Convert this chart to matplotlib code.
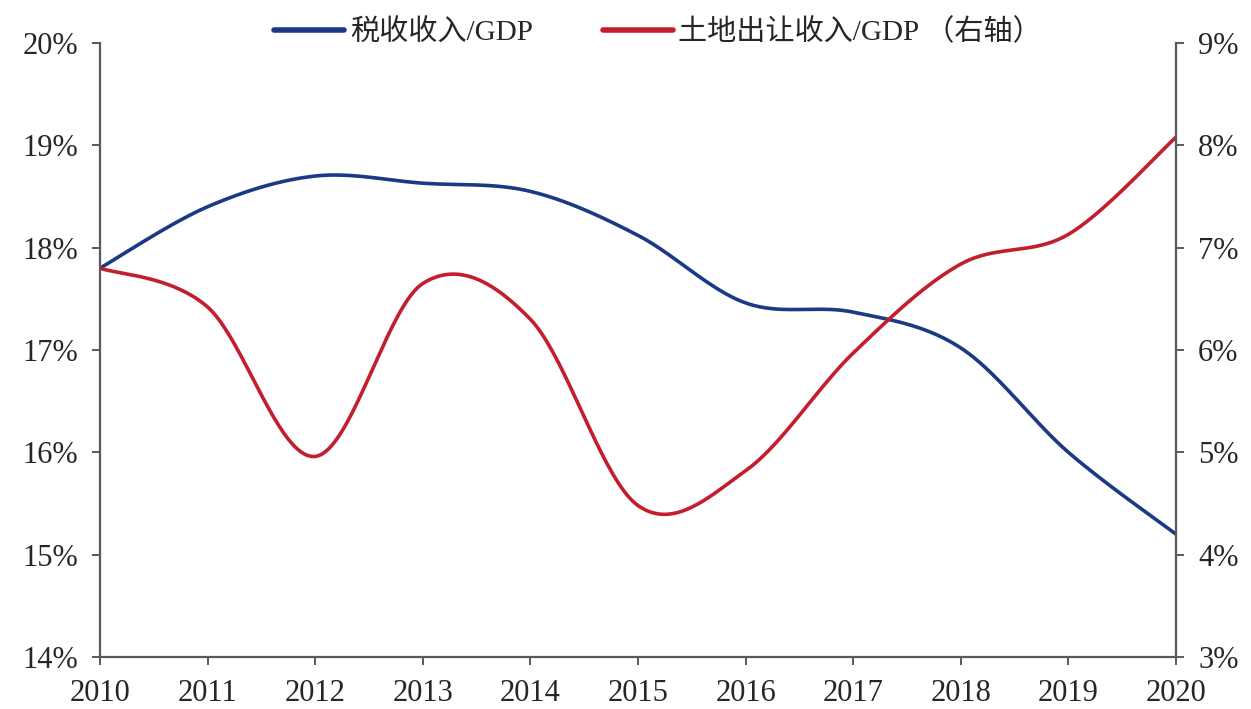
import numpy as np
import matplotlib
matplotlib.use('Agg')
import matplotlib.pyplot as plt
from matplotlib.ticker import FuncFormatter

# 数据（%）
years = [2010, 2011, 2012, 2013, 2014, 2015, 2016, 2017, 2018, 2019, 2020]
tax_gdp = [17.8, 18.4, 18.7, 18.63, 18.55, 18.12, 17.46, 17.37, 17.02, 16.0, 15.2]
land_gdp = [6.8, 6.42, 4.96, 6.65, 6.3, 4.48, 4.82, 5.97, 6.84, 7.13, 8.08]

label_tax = '税收收入/GDP'
label_land = '土地出让收入/GDP （右轴）'

blue = '#1B3A86'
red = '#C41E2E'
axis_col = '#5a5a5a'
text_col = '#262626'

plt.rcParams['font.family'] = ['Liberation Serif', 'Noto Sans CJK SC']


# Excel 风格平滑线：相邻点之间的三次贝塞尔段
def smooth(xs, ys, n=40):
    x = np.asarray(xs, float)
    y = np.asarray(ys, float)
    xp = np.concatenate([[x[0]], x, [x[-1]]])
    yp = np.concatenate([[y[0]], y, [y[-1]]])
    t = np.linspace(0, 1, n)[:, None]
    out_x, out_y = [], []
    for i in range(len(x) - 1):
        p0 = np.array([xp[i + 1], yp[i + 1]])
        p3 = np.array([xp[i + 2], yp[i + 2]])
        c1 = p0 + (p3 - np.array([xp[i], yp[i]])) / 6
        c2 = p3 - (np.array([xp[i + 3], yp[i + 3]]) - p0) / 6
        pts = ((1 - t) ** 3) * p0 + 3 * ((1 - t) ** 2) * t * c1 + 3 * (1 - t) * t ** 2 * c2 + t ** 3 * p3
        out_x.extend(pts[:, 0])
        out_y.extend(pts[:, 1])
    return out_x, out_y


fig = plt.figure(figsize=(12.51, 7.09), dpi=100)
ax = fig.add_axes([100 / 1251, 52 / 709, 1076 / 1251, 614 / 709])
ax2 = ax.twinx()

bx, by = smooth(years, tax_gdp)
rx, ry = smooth(years, land_gdp)
l1, = ax.plot(bx, by, color=blue, lw=2.6, label=label_tax, solid_capstyle='round')
l2, = ax2.plot(rx, ry, color=red, lw=2.6, label=label_land, solid_capstyle='round')

ax.set_xlim(2010, 2020)
ax.set_ylim(14, 20)
ax2.set_ylim(3, 9)
ax.set_xticks(years)
ax.set_yticks(range(14, 21))
ax2.set_yticks(range(3, 10))
pct = FuncFormatter(lambda v, p: f'{v:.0f}%')
ax.yaxis.set_major_formatter(pct)
ax2.yaxis.set_major_formatter(pct)

for a in (ax, ax2):
    a.spines['top'].set_visible(False)
    for s in a.spines.values():
        s.set_color(axis_col)
        s.set_linewidth(1.6)
ax.spines['right'].set_visible(False)
ax2.spines['left'].set_visible(False)
ax2.spines['bottom'].set_visible(False)

ax.tick_params(axis='x', direction='out', length=6, width=1.4, color=axis_col,
               labelsize=22, labelcolor=text_col, pad=10)
ax.tick_params(axis='y', direction='out', length=6, width=1.4, color=axis_col,
               labelsize=22, labelcolor=text_col, pad=10)
ax2.tick_params(axis='y', direction='out', length=6, width=1.4, color=axis_col,
                labelsize=22, labelcolor=text_col, pad=10)

leg = fig.legend(handles=[l1, l2], loc='center', bbox_to_anchor=(0.526, 0.955),
                 ncol=2, frameon=False, fontsize=21, handlelength=2.4,
                 handletextpad=0.2, columnspacing=2.4)
for h in leg.get_lines():
    h.set_linewidth(4)
for t in leg.get_texts():
    t.set_color(text_col)

fig.savefig('out.png', dpi=100, facecolor='white')
